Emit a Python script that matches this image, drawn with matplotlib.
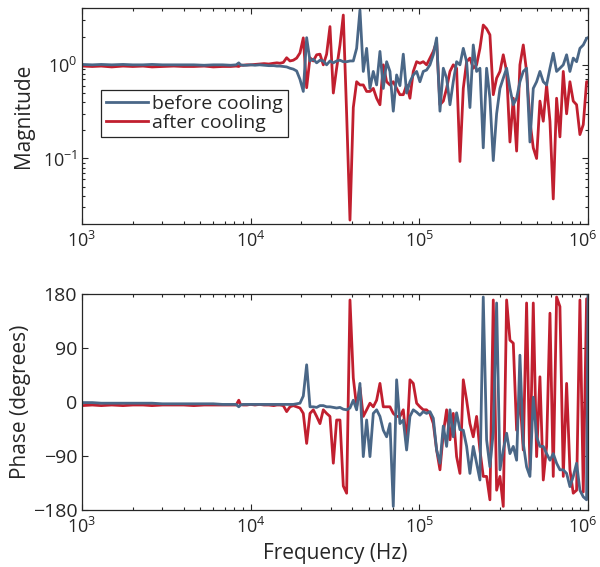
import numpy as np
import matplotlib
matplotlib.use('Agg')
import matplotlib.pyplot as plt
import matplotlib.transforms as mtransforms
from matplotlib.ticker import LogLocator, NullFormatter, FixedLocator

plt.rcParams['font.family'] = ['Open Sans', 'DejaVu Sans']
plt.rcParams['mathtext.fontset'] = 'custom'
plt.rcParams['mathtext.rm'] = 'Open Sans'
plt.rcParams['mathtext.default'] = 'regular'

# sweep frequencies (Hz)
freq_hz = [
    1000, 1150, 1300, 1500, 1750, 2000, 2300, 2600, 3000, 3500,
    4000, 4600, 5300, 6000, 6800, 7600, 8200, 8500, 8700, 9000,
    9500, 10000, 10600, 11300, 12000, 12800, 13700, 14300,
    14920, 15610, 16340, 17100, 17890, 18730, 19600, 20510, 21470, 22470,
    23510, 24610, 25750, 26950, 28200, 29520, 30900, 32330, 33840, 35410,
    37060, 38790, 40590, 42480, 44450, 46520, 48700, 50960, 53330, 55810,
    58410, 61140, 63980, 66960, 70060, 73330, 76740, 80320, 84050, 87960,
    92060, 96370, 100800, 105500, 110400, 115600, 121000, 126600, 132500, 138700,
    145100, 151900, 158900, 166300, 174100, 182200, 190700, 199500, 208800, 218500,
    228700, 239300, 250500, 262100, 274400, 287200, 300600, 314500, 329200, 344500,
    360600, 377400, 394800, 413300, 432400, 452600, 473700, 495800, 518800, 543000,
    568300, 594900, 622300, 651300, 681600, 713500, 746700, 781300, 817700, 855700,
    895600, 937500, 980900, 1000000]

mag_before = [
    1.01, 1.00, 1.01, 1.00, 1.01, 1.00, 1.00, 1.01, 1.00, 1.00,
    1.00, 1.00, 0.99, 1.00, 1.00, 0.99, 1.00, 1.05, 1.00, 0.99,
    0.99, 1.00, 0.99, 1.00, 0.99, 0.98, 0.98, 0.97,
    0.97, 0.96, 0.95, 0.92, 0.90, 0.86, 0.70, 0.52, 1.95, 1.10,
    1.15, 1.05, 1.12, 1.10, 1.00, 1.10, 1.05, 1.10, 1.12, 1.08,
    1.08, 1.10, 1.10, 1.50, 3.85, 0.85, 1.50, 0.56, 0.85, 0.61,
    1.39, 0.56, 1.08, 0.85, 0.32, 0.78, 0.60, 1.30, 0.50, 0.66,
    0.78, 0.85, 0.66, 0.85, 0.88, 1.00, 1.28, 1.94, 0.32, 0.92,
    0.72, 0.375, 0.66, 1.08, 1.00, 1.50, 1.08, 0.35, 1.63, 0.85,
    0.92, 0.13, 0.92, 0.44, 0.095, 0.30, 0.56, 0.72, 0.92, 0.56,
    0.375, 0.44, 0.66, 0.85, 0.92, 0.15, 0.56, 0.66, 0.85, 0.66,
    0.61, 0.92, 1.33, 0.85, 0.92, 1.00, 1.28, 0.85, 1.18, 1.08,
    1.50, 1.63, 1.92, 1.95]

mag_after = [
    0.97, 0.96, 0.97, 0.95, 0.97, 0.96, 0.97, 0.95, 0.96, 0.97,
    0.96, 0.96, 0.97, 0.95, 0.96, 0.96, 0.97, 0.96, 0.99, 0.99,
    1.00, 1.00, 1.01, 1.02, 1.03, 1.02, 1.04, 1.05,
    1.04, 1.06, 1.19, 1.10, 1.12, 1.18, 1.34, 1.94, 0.57, 1.19,
    1.10, 1.28, 1.30, 1.00, 1.30, 2.56, 0.50, 0.92, 1.63, 3.40,
    0.30, 0.022, 0.35, 0.66, 0.61, 0.61, 0.52, 0.52, 0.56, 0.44,
    0.375, 1.00, 0.66, 0.61, 0.66, 0.56, 0.48, 0.48, 0.61, 0.44,
    0.85, 1.08, 1.04, 1.08, 1.00, 1.18, 1.39, 1.77, 0.375, 0.41,
    0.56, 0.85, 1.00, 0.92, 0.093, 0.56, 1.08, 1.18, 0.92, 1.00,
    1.50, 2.66, 2.43, 2.09, 0.48, 0.72, 0.85, 1.28, 0.85, 0.15,
    0.44, 0.12, 1.00, 1.63, 0.85, 0.25, 0.13, 0.10, 0.41, 0.25,
    0.61, 0.25, 0.037, 0.44, 0.17, 0.85, 0.30, 0.66, 0.41, 0.375,
    0.18, 0.23, 0.66, 0.66]

phase_before = [
    -1, -1, -2, -2, -2, -2, -2, -2, -3, -3,
    -3, -3, -3, -3, -4, -4, -4, -8, -5, -4,
    -4, -4, -4, -4, -4, -4, -4, -4,
    -4, -4, -4, -4, -4, -3, -2, 10, 62, -8,
    -8, -9, -6, -6, -8, -8, -9, -10, -9, -12,
    -13, -10, 3, -13, 31, -91, -30, -91, -19, -13,
    -24, -47, -58, -36, -174, 37, -36, -30, -80, -24,
    -13, -17, -22, -16, -19, -16, -27, -80, -102, -40,
    -74, -13, -58, -18, -46, -47, -74, -119, -74, -102,
    -130, 175, -63, -108, -50, 165, -113, -80, -52, -86,
    -74, -97, 78, -69, -108, -124, 8, -58, -74, -74,
    -86, -97, -86, -102, -113, -113, -119, -141, -124, -102,
    -147, -158, -163, 178]

phase_after = [
    -6, -5, -6, -5, -6, -5, -5, -6, -5, -5,
    -5, -6, -5, -5, -5, -5, -5, 3, -4, -5,
    -5, -4, -5, -4, -5, -5, -6, -5,
    -5, -6, -16, -8, -6, -8, -10, -19, -69, -19,
    -13, -24, -36, -13, -19, -24, -102, -30, -30, -140,
    -152, 170, 40, -8, 24, -24, -13, -2, -8, 3,
    31, -8, -8, -8, -19, -24, -24, -13, -69, 37,
    31, -2, -8, -13, -13, -19, -36, -80, -113, -52,
    -13, -63, -19, -91, -119, 37, 3, -36, -58, -24,
    -80, -124, -124, -163, 170, -147, -124, -174, 170, 103,
    98, -47, 9, -80, 165, -113, 165, -91, 42, -130,
    -74, 148, -124, 175, 159, -124, 31, -113, -152, -147,
    170, -150, 172, -120]

labels = ['before cooling', 'after cooling']
c_before = '#4a6787'
c_after = '#c11f2f'
axis_col = '#262626'
fs = 14        # legend / phase tick labels
fs_log = 13    # 10^n tick labels
fs_lab = 15    # axis labels
lw = 2.0

fig = plt.figure(figsize=(6, 5.67), dpi=100)
ax1 = fig.add_axes([0.1367, 0.605, 0.8433, 0.381])
ax2 = fig.add_axes([0.1367, 0.1005, 0.8433, 0.381])

# blue drawn on top, legend lists it first
l_after, = ax1.plot(freq_hz, mag_after, color=c_after, lw=lw, label=labels[1])
l_before, = ax1.plot(freq_hz, mag_before, color=c_before, lw=lw, label=labels[0])
ax2.plot(freq_hz, phase_after, color=c_after, lw=lw)
ax2.plot(freq_hz, phase_before, color=c_before, lw=lw)

for ax in (ax1, ax2):
    ax.set_xscale('log')
    ax.set_xlim(1e3, 1e6)
    ax.xaxis.set_major_locator(LogLocator(base=10, numticks=10))
    ax.xaxis.set_minor_locator(LogLocator(base=10, subs=np.arange(2, 10), numticks=50))
    ax.xaxis.set_minor_formatter(NullFormatter())
    ax.tick_params(which='both', direction='in', top=True, right=True,
                   colors=axis_col, width=0.8)
    ax.tick_params(axis='x', labelsize=fs_log, pad=5)
    ax.tick_params(which='major', length=4.5)
    ax.tick_params(which='minor', length=2.5)
    for s in ax.spines.values():
        s.set_color(axis_col)
        s.set_linewidth(0.9)

ax1.set_yscale('log')
ax1.set_ylim(0.02, 4.05)
ax1.yaxis.set_major_locator(LogLocator(base=10, numticks=10))
ax1.yaxis.set_minor_locator(LogLocator(base=10, subs=np.arange(2, 10), numticks=50))
ax1.yaxis.set_minor_formatter(NullFormatter())
ax1.tick_params(axis='y', labelsize=fs_log)
ax1.set_ylabel('Magnitude', fontsize=fs_lab, color=axis_col, labelpad=6)

ax2.set_ylim(-180, 180)
ax2.yaxis.set_major_locator(FixedLocator([-180, -90, 0, 90, 180]))
ax2.tick_params(axis='y', labelsize=fs)
ax2.set_ylabel('Phase (degrees)', fontsize=fs_lab, color=axis_col, labelpad=1)
ax2.set_xlabel('Frequency (Hz)', fontsize=fs_lab, color=axis_col, labelpad=4)

leg = ax1.legend(handles=[l_before, l_after], loc='lower left',
                 bbox_to_anchor=(0.037, 0.403), borderaxespad=0, fontsize=fs,
                 frameon=True, fancybox=False, framealpha=1, edgecolor=axis_col,
                 handlelength=2.2, handletextpad=0.2, labelspacing=0.05,
                 borderpad=0.25)
leg.get_frame().set_linewidth(0.9)
for t in leg.get_texts():
    t.set_color(axis_col)

# nudge the 10^6 labels left so they stay inside the figure
fig.canvas.draw()
for ax in (ax1, ax2):
    for tick in ax.xaxis.get_major_ticks():
        if np.isclose(tick.get_loc(), 1e6):
            lab = tick.label1
            lab.set_transform(lab.get_transform() +
                              mtransforms.ScaledTranslation(-5 / 100, 0, fig.dpi_scale_trans))

fig.savefig('out.png', dpi=100, facecolor='white')
